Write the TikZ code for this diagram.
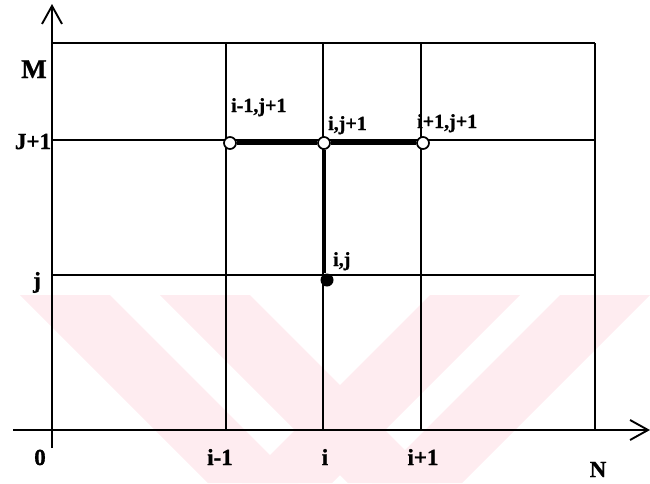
\documentclass[tikz,border=0pt]{standalone}
\usepackage{fontspec}
\setmainfont{Liberation Serif}[BoldFeatures={FakeBold=1.2}]
\usetikzlibrary{arrows.meta}
\definecolor{wm}{RGB}{254,236,240}
\tikzset{
  gridline/.style={line width=1.6pt},
  axisline/.style={line width=1.9pt},
  thickseg/.style={line width=4pt},
  opendot/.style={circle,draw,fill=white,line width=1.7pt,inner sep=0pt,minimum size=12pt},
  fulldot/.style={circle,fill=black,inner sep=0pt,minimum size=13pt},
  axlab/.style={font=\fontsize{23}{23}\selectfont\bfseries,anchor=base,inner sep=0pt},
  biglab/.style={font=\fontsize{27}{27}\selectfont\bfseries,anchor=base,inner sep=0pt},
  ptlab/.style={font=\fontsize{20}{20}\selectfont\bfseries,anchor=base west,inner sep=0pt},
  barb/.style={-{Straight Barb[length=18pt,width=20pt,line width=1.9pt]}}
}
\begin{document}
\begin{tikzpicture}[x=1pt,y=-1pt]
\useasboundingbox (0,0) rectangle (650,483);
% watermark
\begin{scope}
\clip (0,295) rectangle (650,483);
\fill[wm] (20,295) -- (110,295) -- (298,483) -- (208,483) -- cycle;
\fill[wm] (160,295) -- (250,295) -- (438,483) -- (348,483) -- cycle;
\fill[wm] (430,295) -- (520,295) -- (332,483) -- (242,483) -- cycle;
\fill[wm] (560,295) -- (650,295) -- (462,483) -- (372,483) -- cycle;
\end{scope}
% grid coordinates
\coordinate (ybot) at (52,448);
\coordinate (ytop) at (52,4);
\coordinate (xl) at (13,430);
\coordinate (xr) at (650,430);
\coordinate (tl) at (52,43);
\coordinate (tr) at (595,43);
\coordinate (jal) at (52,140);
\coordinate (jar) at (595,140);
\coordinate (jl) at (52,275);
\coordinate (jr) at (595,275);
\foreach \n/\x in {a/226,b/323,c/421,d/595}{
  \coordinate (\n t) at (\x,43);
  \coordinate (\n b) at (\x,430);
}
% grid
\draw[gridline] (tl) -- (tr);
\draw[gridline] (jal) -- (jar);
\draw[gridline] (jl) -- (jr);
\foreach \n in {a,b,c,d}{\draw[gridline] (\n t) -- (\n b);}
% axes
\draw[axisline,barb] (ybot) -- (ytop);
\draw[axisline,barb] (xl) -- (xr);
% points
\node[opendot] (p1) at (230,143) {};
\node[opendot] (p2) at (324,143) {};
\node[opendot] (p3) at (423,143) {};
\node[fulldot] (p4) at (327,280) {};
\draw[thickseg] (p1) -- (p2);
\draw[thickseg] (p2) -- (p3);
\draw[thickseg] (p2.south) -- (p2.south |- p4.north);
% point labels
\node[ptlab] (l1) at (231,112) {i-1,j+1};
\node[ptlab] (l2) at (328,130) {i,j+1};
\node[ptlab] (l3) at (417,128) {i+1,j+1};
\node[ptlab] (l4) at (333,266) {i,j};
% axis labels
\node[biglab] (m) at (34,78) {M};
\node[axlab] (j1) at (33,149) {J+1};
\node[axlab] (j) at (37,288) {j};
\node[axlab] (z) at (40,465) {0};
\node[axlab] (i1) at (220,465) {i-1};
\node[axlab] (i) at (325,465) {i};
\node[axlab] (i2) at (423,465) {i+1};
\node[axlab] (n) at (598,477) {N};
\end{tikzpicture}
\end{document}
